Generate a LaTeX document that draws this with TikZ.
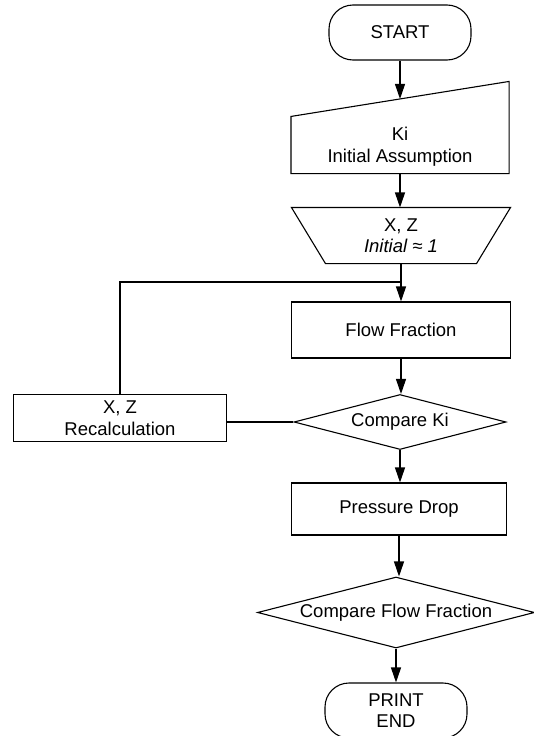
\documentclass[tikz,border=0pt]{standalone}
\usepackage{fontspec}
\setmainfont{Liberation Sans}
\usepackage{xcolor}
\usepackage{tikz}
\usetikzlibrary{positioning, shapes.geometric, arrows.meta, calc}

\begin{document}
\begin{tikzpicture}[x=1pt, y=-1pt, line width=1.1pt, >={Triangle[length=15pt,width=10pt]}, font=\fontsize{18.5}{21.5}\selectfont]
			\tikzstyle{terminal}=[rectangle,draw=black,rounded corners=24pt,minimum width=142pt,minimum height=55pt,align=center]
			\tikzstyle{process}=[rectangle,draw=black,align=center]
			\tikzstyle{decision}=[diamond,draw=black,inner sep=0pt,aspect=3.9,align=center]
			\tikzstyle{plain}=[rectangle,inner sep=0pt,align=center]
			\useasboundingbox (0,0) rectangle (534,736);
			\node[terminal](start) at (400,32.5){START};
			\node[plain,minimum width=217pt,minimum height=56pt,text depth=0pt](ki) at (400,145){Ki\\[1pt]Initial Assumption};
			\draw (ki.south west) -- (ki.north west) -- ($(ki.north east)+(0,-35)$) -- (ki.south east) -- cycle;
			\coordinate (kitop) at ($(ki.north)+(0,-17.5)$);
			\node[plain,minimum width=150pt,minimum height=55pt](xz) at (401,235.5){X, Z\\\textit{Initial ≈ 1}};
			\draw ($(xz.north west)+(-34,0)$) -- ($(xz.north east)+(34,0)$) -- (xz.south east) -- (xz.south west) -- cycle;
			\node[process,minimum width=219pt,minimum height=56pt](flow) at (401,330){Flow Fraction};
			\node[decision,minimum width=212pt,minimum height=55pt](cki) at (400,422){Compare Ki};
			\node[process,minimum width=213pt,minimum height=47pt,inner sep=1pt](recalc) at (120,418){X, Z\\Recalculation};
			\node[process,minimum width=215pt,minimum height=52pt](pdrop) at (399,509){Pressure Drop};
			\node[decision,minimum width=277pt,minimum height=71pt](cff) at (396,612.5){Compare Flow Fraction};
			\node[terminal](print) at (396,710.5){PRINT\\END};
			\coordinate (join) at (401,282);
			\path[->]
				(start) edge (kitop)
				(ki.south) edge (ki.south |- xz.north)
				(xz.south) edge (xz.south |- flow.north)
				(flow.south) edge (flow.south |- cki.north)
				(cki.south) edge (cki.south |- pdrop.north)
				(pdrop.south) edge (pdrop.south |- cff.north)
				(cff.south) edge (cff.south |- print.north);
			\draw (recalc.north) |- (join);
			\draw (cki.west) -- (cki.west -| recalc.east);
		\end{tikzpicture}
\end{document}
